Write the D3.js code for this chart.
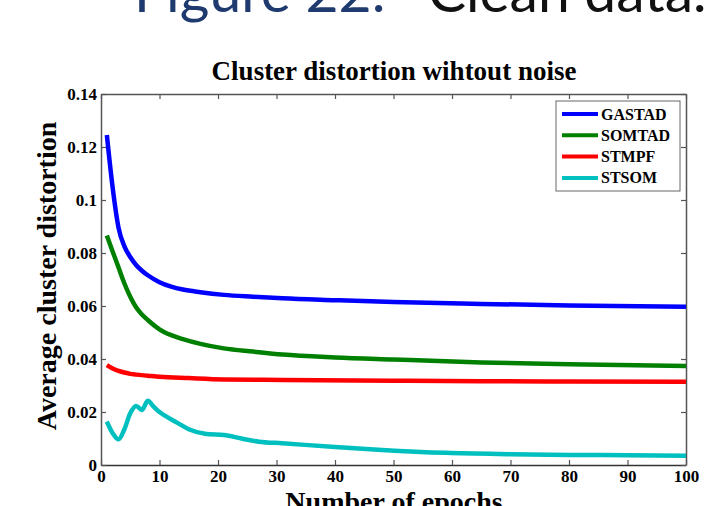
<!DOCTYPE html>
<html>
<head>
<meta charset="utf-8">
<script src="https://cdn.jsdelivr.net/npm/d3@7"></script>
<style>
  html, body { margin: 0; padding: 0; background: #fff; }
  svg { display: block; }
</style>
</head>
<body>
<svg id="chart" width="717" height="506"></svg>
<script>
// Average cluster distortion per training epoch, clean data
const seriesNames = ["GASTAD", "SOMTAD", "STMPF", "STSOM"];
const seriesColors = ["#0000ff", "#008000", "#ff0000", "#00bfbf"];

const gastadEpochs = [1, 2, 3, 4, 5, 6, 7, 8, 10, 12, 14, 17, 21, 26, 31, 40, 50, 65, 80, 100];
const gastadValues = [0.1245, 0.1045, 0.0895, 0.0825, 0.0785, 0.0755, 0.0733, 0.0716, 0.069, 0.0673, 0.0662, 0.0652, 0.0642, 0.0635, 0.0629, 0.0622, 0.0615, 0.0608, 0.0602, 0.0597];

const somtadEpochs = [1, 2, 3, 4, 5, 6, 7, 8, 10, 12, 14, 17, 21, 26, 31, 40, 50, 65, 80, 100];
const somtadValues = [0.0866, 0.0805, 0.0745, 0.0685, 0.0635, 0.0595, 0.0568, 0.0547, 0.0512, 0.049, 0.0475, 0.0457, 0.044, 0.0428, 0.0417, 0.0406, 0.0398, 0.0387, 0.038, 0.0374];

const stmpfEpochs = [1, 2, 3, 4, 5, 6, 8, 10, 15, 21, 31, 50, 65, 80, 100];
const stmpfValues = [0.0377, 0.0364, 0.0355, 0.0349, 0.0344, 0.0341, 0.0337, 0.0333, 0.0328, 0.0323, 0.0321, 0.0318, 0.0316, 0.0315, 0.0314];

const stsomEpochs = [1, 2, 3, 4, 5, 6, 7, 8, 9, 10, 11, 13, 15, 18, 21, 24, 27, 31, 40, 48, 59, 70, 80, 90, 100];
const stsomValues = [0.0164, 0.0120, 0.0097, 0.0135, 0.0195, 0.0223, 0.0208, 0.0242, 0.0220, 0.0200, 0.0185, 0.0160, 0.0135, 0.0117, 0.0113, 0.0100, 0.0088, 0.0082, 0.0068, 0.0057, 0.0046, 0.0041, 0.0038, 0.0037, 0.0035];

const xTicks = [0, 10, 20, 30, 40, 50, 60, 70, 80, 90, 100];
const yTicks = [0, 0.02, 0.04, 0.06, 0.08, 0.1, 0.12, 0.14];

const serif = "'Liberation Serif', 'Times New Roman', serif";
const svg = d3.select("#chart");

const plot = { left: 101, right: 686, top: 94, bottom: 465 };
const x = d3.scaleLinear().domain([0, 100]).range([plot.left, plot.right]);
const y = d3.scaleLinear().domain([0, 0.14]).range([plot.bottom, plot.top]);

// Slide heading
const heading = svg.append("text")
  .attr("y", 12)
  .attr("font-family", "Lato, 'Open Sans', sans-serif")
  .attr("font-size", 57);
heading.append("tspan").attr("x", 134).attr("fill", "#1f3a6e").text("Figure 22:");
heading.append("tspan").attr("x", 428).attr("fill", "#111").text("Clean data.");

// Chart title
svg.append("text")
  .attr("x", 394)
  .attr("y", 80)
  .attr("text-anchor", "middle")
  .attr("font-family", serif)
  .attr("font-weight", "bold")
  .attr("font-size", 27)
  .text("Cluster distortion wihtout noise");

// Axes with inward ticks, MATLAB-style box
const fmt = d => d === 0 ? "0" : String(+d.toFixed(2));
const axisColor = "#555";

const xAxis = svg.append("g")
  .attr("transform", `translate(0,${plot.bottom})`)
  .call(d3.axisBottom(x).tickValues(xTicks).tickSizeInner(-5).tickSizeOuter(0).tickPadding(5).tickFormat(d3.format("d")));
const yAxis = svg.append("g")
  .attr("transform", `translate(${plot.left},0)`)
  .call(d3.axisLeft(y).tickValues(yTicks).tickSizeInner(-5).tickSizeOuter(0).tickPadding(4).tickFormat(fmt));
const xTop = svg.append("g")
  .attr("transform", `translate(0,${plot.top})`)
  .call(d3.axisTop(x).tickValues(xTicks).tickSizeInner(-5).tickSizeOuter(0).tickFormat(""));
const yRight = svg.append("g")
  .attr("transform", `translate(${plot.right},0)`)
  .call(d3.axisRight(y).tickValues(yTicks).tickSizeInner(-5).tickSizeOuter(0).tickFormat(""));

[xAxis, yAxis, xTop, yRight].forEach(g => {
  g.selectAll("path").attr("stroke", axisColor).attr("stroke-width", 1.5);
  g.selectAll("line").attr("stroke", axisColor).attr("stroke-width", 1.2);
  g.selectAll("text")
    .attr("fill", "#000")
    .attr("font-family", serif)
    .attr("font-weight", "bold")
    .attr("font-size", 17);
});
xAxis.select("path").attr("stroke", "#333");
xAxis.selectAll("text").attr("dy", "0.71em");
yAxis.selectAll("text").attr("dy", "0.3em");

// Axis labels
svg.append("text")
  .attr("x", 394)
  .attr("y", 511)
  .attr("text-anchor", "middle")
  .attr("font-family", serif)
  .attr("font-weight", "bold")
  .attr("font-size", 28)
  .text("Number of epochs");

svg.append("text")
  .attr("transform", `translate(56,276) rotate(-90)`)
  .attr("text-anchor", "middle")
  .attr("font-family", serif)
  .attr("font-weight", "bold")
  .attr("font-size", 28)
  .text("Average cluster distortion");

// Series lines
const series = [
  { epochs: gastadEpochs, values: gastadValues },
  { epochs: somtadEpochs, values: somtadValues },
  { epochs: stmpfEpochs, values: stmpfValues },
  { epochs: stsomEpochs, values: stsomValues }
];

const line = d3.line()
  .x(d => x(d[0]))
  .y(d => y(d[1]))
  .curve(d3.curveMonotoneX);

series.forEach((s, i) => {
  svg.append("path")
    .datum(s.epochs.map((e, j) => [e, s.values[j]]))
    .attr("fill", "none")
    .attr("stroke", seriesColors[i])
    .attr("stroke-width", 4.5)
    .attr("stroke-linejoin", "round")
    .attr("stroke-linecap", "butt")
    .attr("d", line);
});

// Legend
const legend = svg.append("g").attr("transform", "translate(556,101)");
legend.append("rect")
  .attr("width", 124).attr("height", 90)
  .attr("fill", "#fff").attr("stroke", "#666").attr("stroke-width", 1);
seriesNames.forEach((name, i) => {
  const ly = 13 + i * 21.3;
  legend.append("line")
    .attr("x1", 6).attr("x2", 42).attr("y1", ly).attr("y2", ly)
    .attr("stroke", seriesColors[i]).attr("stroke-width", 4);
  legend.append("text")
    .attr("x", 45).attr("y", ly + 5.5)
    .attr("font-family", serif)
    .attr("font-weight", "bold")
    .attr("font-size", 16)
    .text(name);
});
</script>
</body>
</html>
